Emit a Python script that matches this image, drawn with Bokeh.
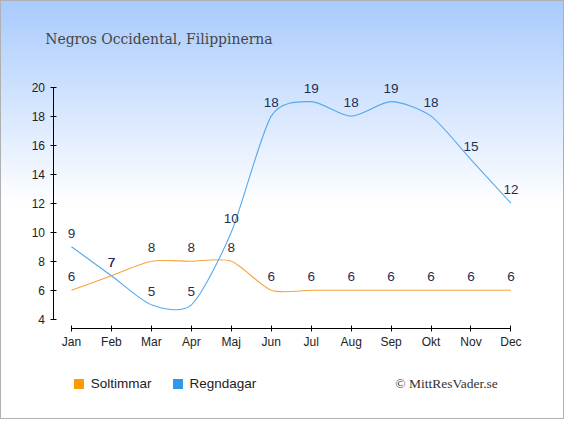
from bokeh.plotting import figure
from bokeh.models import Range1d, FixedTicker, Label, Legend, LegendItem, ColumnDataSource
from bokeh.core.properties import value
from bokeh.embed import file_html
from bokeh.resources import INLINE

title = "Negros Occidental, Filippinerna"
months = ["Jan", "Feb", "Mar", "Apr", "Maj", "Jun", "Jul", "Aug", "Sep", "Okt", "Nov", "Dec"]
soltimmar = [6, 7, 8, 8, 8, 6, 6, 6, 6, 6, 6, 6]
regndagar = [9, 7, 5, 5, 10, 18, 19, 18, 19, 18, 15, 12]
y_ticks = [4, 6, 8, 10, 12, 14, 16, 18, 20]
series_names = ["Soltimmar", "Regndagar"]
credit = "\u00a9 MittResVader.se"

ORANGE_LINE = "#f7a33b"
BLUE_LINE = "#55a8ef"
ORANGE = "#ff9a00"
BLUE = "#3597e9"
LABEL_COLOR = "#1f2f52"
SANS = "Liberation Sans"

W, H = 564, 419
xs = list(range(len(months)))

# the frame covers the whole canvas; axes sit at fixed data locations
X_AXIS_AT = 3.332
Y_AXIS_AT = -0.438
p = figure(width=W, height=H, output_backend="svg", toolbar_location=None,
           x_range=Range1d(-1.777, 12.341), y_range=Range1d(-2.906, 25.971),
           min_border_left=0, min_border_right=0, min_border_top=0, min_border_bottom=0)
p.background_fill_color = None
p.border_fill_color = None
p.outline_line_color = None
p.styles = {"background": "linear-gradient(to bottom, #a8cafd 0px, #ffffff 205px)",
            "box-shadow": "inset 0 0 0 1px #b0b0b0"}
p.grid.visible = False


def spline_source(x, y, k=0.125):
    n = len(x)
    d = dict(x0=[], y0=[], x1=[], y1=[], cx0=[], cy0=[], cx1=[], cy1=[])
    for i in range(n - 1):
        a = max(i - 1, 0)
        b = min(i + 2, n - 1)
        d["x0"].append(x[i]); d["y0"].append(y[i])
        d["x1"].append(x[i + 1]); d["y1"].append(y[i + 1])
        d["cx0"].append(x[i] + k * (x[i + 1] - x[a]))
        d["cy0"].append(y[i] + k * (y[i + 1] - y[a]))
        d["cx1"].append(x[i + 1] - k * (x[b] - x[i]))
        d["cy1"].append(y[i + 1] - k * (y[b] - y[i]))
    return ColumnDataSource(d)


p.bezier(x0="x0", y0="y0", x1="x1", y1="y1", cx0="cx0", cy0="cy0", cx1="cx1", cy1="cy1",
         source=spline_source(xs, soltimmar), line_color=ORANGE_LINE, line_width=1.1)
p.bezier(x0="x0", y0="y0", x1="x1", y1="y1", cx0="cx0", cy0="cy0", cx1="cx1", cy1="cy1",
         source=spline_source(xs, regndagar), line_color=BLUE_LINE, line_width=1.1)

for vals in (soltimmar, regndagar):
    p.text(x=xs, y=vals, text=[str(v) for v in vals], text_align="center", text_baseline="middle",
           y_offset=-13.5, text_font=value(SANS), text_font_size="13.5px", text_color=LABEL_COLOR)

r_sol = p.scatter(x=xs, y=soltimmar, marker="square", size=0, fill_color=ORANGE, line_color=None)
r_reg = p.scatter(x=xs, y=regndagar, marker="square", size=0, fill_color=BLUE, line_color=None)

legend = Legend(items=[LegendItem(label=series_names[0], renderers=[r_sol]),
                       LegendItem(label=series_names[1], renderers=[r_reg])],
                orientation="horizontal", location=(65.8, 22.7), margin=0, padding=0,
                spacing=13, label_standoff=0, glyph_width=25, glyph_height=25,
                border_line_color=None, background_fill_alpha=0,
                label_text_font=SANS, label_text_font_size="13.5px", label_text_color="#222222")
p.add_layout(legend, "center")

# axes
xa = p.xaxis[0]
xa.ticker = FixedTicker(ticks=xs)
xa.major_label_overrides = {i: m for i, m in enumerate(months)}
xa.bounds = (0, len(months) - 1)
xa.fixed_location = X_AXIS_AT
ya = p.yaxis[0]
ya.ticker = FixedTicker(ticks=y_ticks)
ya.bounds = (y_ticks[0], y_ticks[-1])
ya.fixed_location = Y_AXIS_AT
for ax in (xa, ya):
    ax.axis_line_color = "#000000"
    ax.major_tick_line_color = "#000000"
    ax.minor_tick_line_color = None
    ax.major_tick_in = 3
    ax.major_tick_out = 3
    ax.major_label_text_font = SANS
    ax.major_label_text_font_size = "12px"
    ax.major_label_text_color = "#222222"
xa.major_label_standoff = 3
ya.major_label_standoff = 6

p.add_layout(Label(x=44.7, y=380.8, x_units="screen", y_units="screen", text=title,
                   text_font="'DejaVu Serif Condensed', 'DejaVu Serif', serif", text_font_size="15.5px",
                   text_color="#454545", text_baseline="alphabetic"))
p.add_layout(Label(x=394.8, y=35.6, x_units="screen", y_units="screen", text=credit,
                   text_font="Liberation Serif", text_font_size="13.5px",
                   text_color="#333333", text_baseline="middle"))

open("out.html", "w").write(file_html(p, INLINE))
